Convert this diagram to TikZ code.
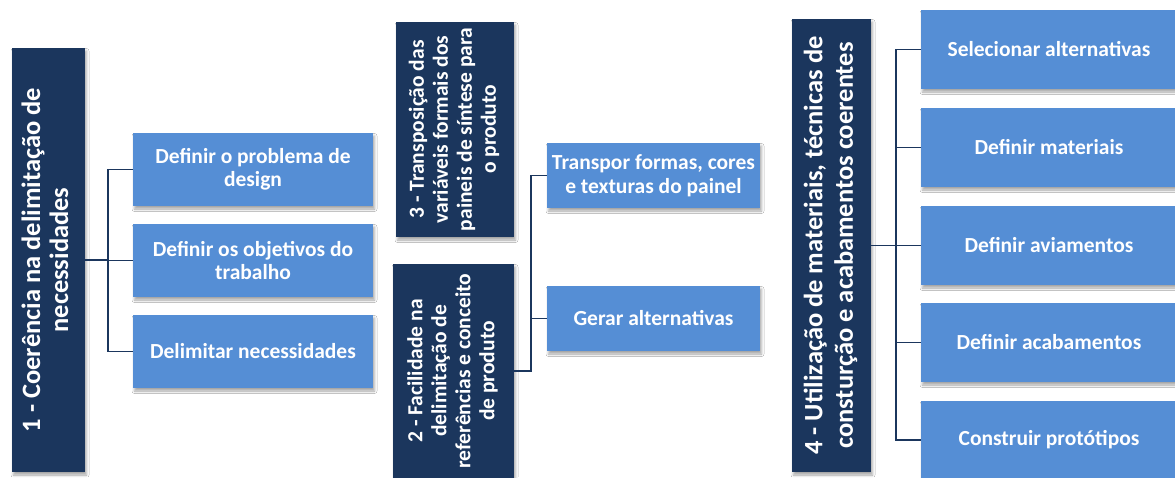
\documentclass[tikz,border=0pt]{standalone}
\usepackage{fontspec}
\setmainfont{Carlito}
\usetikzlibrary{shadows.blur}
\definecolor{navy}{RGB}{27,54,93}
\definecolor{skyblue}{RGB}{85,142,213}
\tikzset{
  box/.style={rectangle, inner sep=0pt, text=white,
    font=\bfseries, align=center,
    blur shadow={shadow xshift=1.5pt, shadow yshift=-3pt,
      shadow blur radius=2.5pt, shadow opacity=35}},
  headbox/.style={box, fill=navy},
  taskbox/.style={box, fill=skyblue, font=\fontsize{21.5}{23.5}\selectfont\bfseries},
  conn/.style={draw=navy, line width=1.6pt}
}
% rotated multi-line heading text
\newcommand{\uptext}[3]{\rotatebox{90}{\fontsize{#1}{#2}\selectfont\bfseries\begin{tabular}{@{}c@{}}#3\end{tabular}}}
\begin{document}
\begin{tikzpicture}[x=1pt, y=-1pt]
\clip (0,0) rectangle (1175,477);
\fill[white] (0,0) rectangle (1175,477);

% group 1
\node[headbox, minimum width=73pt, minimum height=424pt] (b1) at (48.5,260)
  {\uptext{26.5}{28}{1 - Coerência na delimitação de\\necessidades}};
\node[taskbox, minimum width=240pt, minimum height=73pt] (c1a) at (253,169.5)
  {Definir o problema de\\design};
\node[taskbox, minimum width=240pt, minimum height=73pt] (c1b) at (253,260.5)
  {Definir os objetivos do\\trabalho};
\node[taskbox, minimum width=240pt, minimum height=73pt] (c1c) at (253,351.5)
  {Delimitar necessidades};
\coordinate (j1) at (108,260);
\foreach \c in {c1a,c1b,c1c} \draw[conn] (b1.east) -- (j1) |- (\c.west);

% groups 2 and 3
\node[headbox, minimum width=118pt, minimum height=215pt] (b3) at (455,129.5)
  {\uptext{21.5}{24}{3 - Transposição das\\variáveis formais dos\\paineis de síntese para\\o produto}};
\node[headbox, minimum width=121pt, minimum height=214pt] (b2) at (453.5,371)
  {\uptext{21.5}{24}{2 - Facilidade na\\delimitação de\\referências e conceito\\de produto}};
\node[taskbox, minimum width=213pt, minimum height=65pt] (c2a) at (653.5,175.5)
  {Transpor formas, cores\\e texturas do painel};
\node[taskbox, minimum width=213pt, minimum height=65pt] (c2b) at (653.5,318.5)
  {Gerar alternativas};
\coordinate (j2) at (531,371);
\foreach \c in {c2a,c2b} \draw[conn] (b2.east) -- (j2) |- (\c.west);

% group 4
\node[headbox, minimum width=79pt, minimum height=453pt] (b4) at (831.5,245.5)
  {\uptext{26.5}{30.5}{4 - Utilização de materiais, técnicas de\\consturção e acabamentos coerentes}};
\node[taskbox, minimum width=256pt, minimum height=79pt] (c4a) at (1049,49.5) {Selecionar alternativas};
\node[taskbox, minimum width=256pt, minimum height=79pt] (c4b) at (1049,147.5) {Definir materiais};
\node[taskbox, minimum width=256pt, minimum height=79pt] (c4c) at (1049,245.5) {Definir aviamentos};
\node[taskbox, minimum width=256pt, minimum height=79pt] (c4d) at (1049,342.5) {Definir acabamentos};
\node[taskbox, minimum width=256pt, minimum height=78pt] (c4e) at (1049,440) {Construir protótipos};
\coordinate (j4) at (896,245.5);
\foreach \c in {c4a,c4b,c4c,c4d,c4e} \draw[conn] (b4.east) -- (j4) |- (\c.west);
\end{tikzpicture}
\end{document}
